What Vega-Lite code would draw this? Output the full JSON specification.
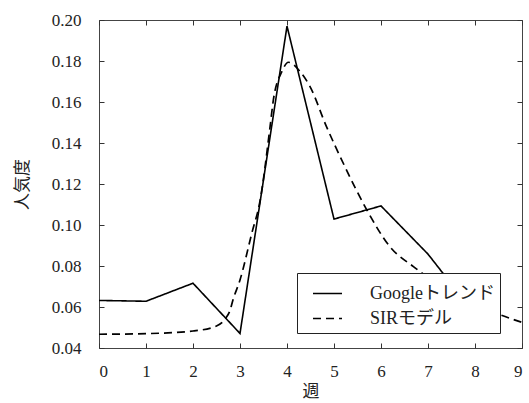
{
  "$schema": "https://vega.github.io/schema/vega-lite/v6.json",
  "width": 423,
  "height": 328,
  "autosize": {"type": "none"},
  "padding": {"left": 99, "top": 20, "right": 7, "bottom": 55},
  "background": "white",
  "config": {
    "font": "Liberation Serif, Noto Sans CJK JP, serif",
    "view": {"stroke": "#444", "strokeWidth": 1},
    "axis": {
      "grid": false,
      "domain": false,
      "tickColor": "#333",
      "tickSize": -5,
      "labelFont": "Liberation Serif, serif",
      "titleFont": "Liberation Serif, Noto Sans CJK JP, serif",
      "labelFontSize": 17,
      "labelColor": "#222",
      "titleFontSize": 17,
      "titleFontWeight": "normal",
      "titleColor": "#222"
    },
    "legend": {
      "labelFont": "Liberation Serif, Noto Sans CJK JP, serif",
      "labelFontSize": 18,
      "labelColor": "#222"
    }
  },
  "datasets": {
    "google": [
      {"week": 0, "popularity": 0.0632, "series": "Googleトレンド"},
      {"week": 1, "popularity": 0.0628, "series": "Googleトレンド"},
      {"week": 2, "popularity": 0.0716, "series": "Googleトレンド"},
      {"week": 3, "popularity": 0.0471, "series": "Googleトレンド"},
      {"week": 4, "popularity": 0.197, "series": "Googleトレンド"},
      {"week": 5, "popularity": 0.1029, "series": "Googleトレンド"},
      {"week": 6, "popularity": 0.1093, "series": "Googleトレンド"},
      {"week": 7, "popularity": 0.0858, "series": "Googleトレンド"},
      {"week": 8, "popularity": 0.0565, "series": "Googleトレンド"}
    ],
    "sir": [
      {"week": 0, "popularity": 0.0467, "series": "SIRモデル"},
      {"week": 1, "popularity": 0.047, "series": "SIRモデル"},
      {"week": 2, "popularity": 0.0483, "series": "SIRモデル"},
      {"week": 2.5, "popularity": 0.0507, "series": "SIRモデル"},
      {"week": 2.68, "popularity": 0.054, "series": "SIRモデル"},
      {"week": 2.79, "popularity": 0.0585, "series": "SIRモデル"},
      {"week": 2.85, "popularity": 0.0634, "series": "SIRモデル"},
      {"week": 3.0, "popularity": 0.0732, "series": "SIRモデル"},
      {"week": 3.25, "popularity": 0.0959, "series": "SIRモデル"},
      {"week": 3.43, "popularity": 0.1122, "series": "SIRモデル"},
      {"week": 3.64, "popularity": 0.148, "series": "SIRモデル"},
      {"week": 3.71, "popularity": 0.161, "series": "SIRモデル"},
      {"week": 3.89, "popularity": 0.1748, "series": "SIRモデル"},
      {"week": 4.03, "popularity": 0.1794, "series": "SIRモデル"},
      {"week": 4.28, "popularity": 0.1748, "series": "SIRモデル"},
      {"week": 4.49, "popularity": 0.1675, "series": "SIRモデル"},
      {"week": 4.84, "popularity": 0.148, "series": "SIRモデル"},
      {"week": 5.2, "popularity": 0.13, "series": "SIRモデル"},
      {"week": 5.7, "popularity": 0.1073, "series": "SIRモデル"},
      {"week": 6.19, "popularity": 0.0894, "series": "SIRモデル"},
      {"week": 6.69, "popularity": 0.0797, "series": "SIRモデル"},
      {"week": 7.0, "popularity": 0.0745, "series": "SIRモデル"},
      {"week": 7.5, "popularity": 0.067, "series": "SIRモデル"},
      {"week": 8.0, "popularity": 0.0615, "series": "SIRモデル"},
      {"week": 8.5, "popularity": 0.0565, "series": "SIRモデル"},
      {"week": 9.0, "popularity": 0.0525, "series": "SIRモデル"}
    ]
  },
  "layer": [
    {
      "data": {"name": "google"},
      "mark": {"type": "line", "strokeWidth": 1.6, "color": "black", "clip": true},
      "encoding": {
        "x": {
          "field": "week", "type": "quantitative",
          "scale": {"domain": [0, 9], "nice": false, "zero": false},
          "axis": {"orient": "bottom", "values": [0, 1, 2, 3, 4, 5, 6, 7, 8, 9], "title": "週", "labelPadding": 20, "titleY": 43, "titleBaseline": "middle"}
        },
        "y": {
          "field": "popularity", "type": "quantitative",
          "scale": {"domain": [0.04, 0.2], "nice": false, "zero": false},
          "axis": {"orient": "left", "values": [0.04, 0.06, 0.08, 0.1, 0.12, 0.14, 0.16, 0.18, 0.2], "format": ".2f", "title": "人気度", "labelPadding": 23, "titleX": -77, "titleY": 164, "titleBaseline": "middle", "titleAlign": "center", "titleAngle": -90}
        },
        "strokeDash": {
          "field": "series", "type": "nominal",
          "scale": {"domain": ["Googleトレンド", "SIRモデル"], "range": [[1, 0], [8, 5]]},
          "legend": {
            "title": null,
            "orient": "none",
            "legendX": 198,
            "legendY": 253,
            "symbolType": "stroke",
            "symbolSize": 841,
            "symbolStrokeColor": "black",
            "symbolStrokeWidth": 1.6,
            "symbolOffset": 10,
            "labelOffset": 27,
            "rowPadding": 0,
            "padding": 5,
            "fillColor": "white",
            "strokeColor": "#222",
            "cornerRadius": 0
          }
        }
      }
    },
    {
      "data": {"name": "sir"},
      "mark": {"type": "line", "strokeWidth": 1.7, "color": "black", "interpolate": "monotone", "clip": true},
      "encoding": {
        "x": {
          "field": "week", "type": "quantitative",
          "scale": {"domain": [0, 9], "nice": false, "zero": false},
          "axis": {"orient": "top", "values": [0, 1, 2, 3, 4, 5, 6, 7, 8, 9], "labels": false, "title": null}
        },
        "y": {
          "field": "popularity", "type": "quantitative",
          "scale": {"domain": [0.04, 0.2], "nice": false, "zero": false},
          "axis": {"orient": "right", "values": [0.04, 0.06, 0.08, 0.1, 0.12, 0.14, 0.16, 0.18, 0.2], "labels": false, "title": null}
        },
        "strokeDash": {
          "field": "series", "type": "nominal",
          "scale": {"domain": ["Googleトレンド", "SIRモデル"], "range": [[1, 0], [8, 5]]}
        }
      }
    }
  ],
  "resolve": {"axis": {"x": "independent", "y": "independent"}}
}
